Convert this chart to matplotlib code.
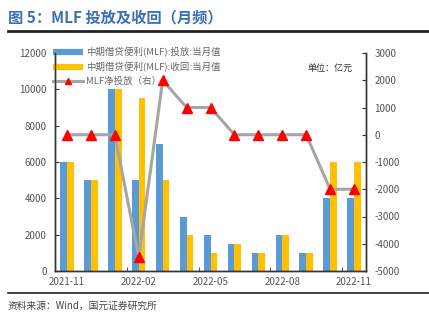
import matplotlib
matplotlib.use("Agg")
import matplotlib.pyplot as plt
from matplotlib.lines import Line2D
from matplotlib.patches import Patch
import numpy as np

plt.rcParams['font.family'] = ['Noto Sans CJK SC', 'DejaVu Sans']

months = ["2021-11", "2021-12", "2022-01", "2022-02", "2022-03", "2022-04", "2022-05",
          "2022-06", "2022-07", "2022-08", "2022-09", "2022-10", "2022-11"]
inject = [6000, 5000, 10000, 5000, 7000, 3000, 2000, 1500, 1000, 2000, 1000, 4000, 4000]
withdraw = [6000, 5000, 10000, 9500, 5000, 2000, 1000, 1500, 1000, 2000, 1000, 6000, 6000]
net = [0, 0, 0, -4500, 2000, 1000, 1000, 0, 0, 0, 0, -2000, -2000]
left_ticks = [0, 2000, 4000, 6000, 8000, 10000, 12000]
right_ticks = [-5000, -4000, -3000, -2000, -1000, 0, 1000, 2000, 3000]

W, H = 429, 329
fig = plt.figure(figsize=(W / 100, H / 100), dpi=100)
ax = fig.add_axes([55 / W, 1 - 271 / H, (366 - 55) / W, (271 - 53) / H])
ax2 = ax.twinx()

x = np.arange(len(months))
bw = 0.28
ax.bar(x - bw / 2, inject, width=bw, color="#5B9BD5", zorder=2)
ax.bar(x + bw / 2, withdraw, width=bw, color="#FFC000", zorder=2)
ax2.plot(x, net, color="#A5A5A5", lw=2.2, marker="^", markersize=7,
         markerfacecolor="#FF0000", markeredgecolor="#FF0000")

ax.set_xlim(-0.5, len(months) - 0.5)
ax.set_ylim(0, 12000)
ax2.set_ylim(-5000, 3000)
ax.set_yticks(left_ticks)
ax2.set_yticks(right_ticks)
ax.set_yticklabels([str(v) for v in left_ticks])
ax2.set_yticklabels([str(v) for v in right_ticks])

ax.set_xticks(x[::3])
ax.set_xticklabels([months[i] for i in range(0, len(months), 3)])
ax.set_xticks(x[::3] - 0.5, minor=True)
ax.tick_params(axis="x", which="major", length=0, labelsize=7, colors="#555555", pad=4)
ax.tick_params(axis="x", which="minor", length=3, direction="in", color="#333333")
ax.tick_params(axis="y", length=3, direction="in", labelsize=7, labelcolor="#555555", color="#333333", pad=6)
ax2.tick_params(axis="y", length=3, direction="in", labelsize=7, labelcolor="#555555", color="#333333", pad=6)

for a in (ax, ax2):
    a.spines["top"].set_visible(False)
    for s in ("left", "right", "bottom"):
        a.spines[s].set_color("#333333")
        a.spines[s].set_linewidth(1.0)

h1 = Line2D([], [], color="#5B9BD5", lw=4.5, solid_capstyle="butt")
h2 = Line2D([], [], color="#FFC000", lw=4.5, solid_capstyle="butt")
h3 = Line2D([], [], color="#A5A5A5", lw=2.2, marker="^", markersize=5,
            markerfacecolor="#FF0000", markeredgecolor="#FF0000")
leg = ax.legend(handles=[h1, h2, h3],
                labels=["中期借贷便利(MLF):投放:当月值", "中期借贷便利(MLF):收回:当月值", "MLF净投放（右）"],
                loc="upper left", bbox_to_anchor=(-0.02, 1.045), numpoints=1,
                frameon=False, fontsize=6.8, handlelength=3.2, handletextpad=0.3,
                labelspacing=0.5, borderaxespad=0)
for t in leg.get_texts():
    t.set_color("#666666")
ax.set_zorder(1)
ax2.set_zorder(2)
ax.patch.set_visible(False)

ax2.text(0.955, 0.93, "单位：亿元", transform=ax2.transAxes, ha="right", va="center",
         fontsize=6.5, color="#333333")

fig.text(8 / W, 1 - 17 / H, "图 5：MLF 投放及收回（月频）", ha="left", va="center",
         fontsize=11, fontweight="bold", color="#3C70B5")
fig.add_artist(Line2D([8 / W, 1.0], [1 - 31 / H, 1 - 31 / H], color="#222222", lw=2.0))
fig.add_artist(Line2D([8 / W, 1.0], [1 - 293 / H, 1 - 293 / H], color="#222222", lw=1.2))
fig.text(8 / W, 1 - 306 / H, "资料来源：Wind，国元证券研究所", ha="left", va="center",
         fontsize=7, color="#444444")

fig.savefig("out.png", dpi=100)
